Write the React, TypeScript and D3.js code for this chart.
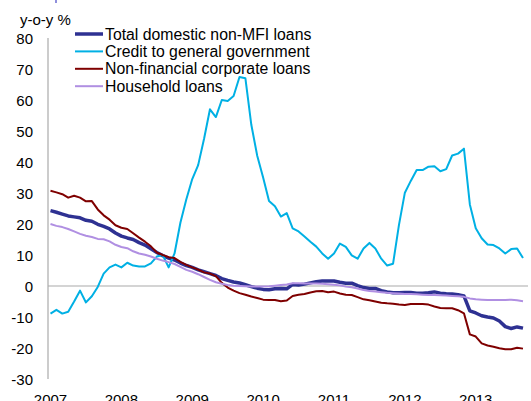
import React from "react";
import * as d3 from "d3";

// Monthly observations, Jan 2007 .. Sep 2013 (81 months)
const yearLabels = ["2007", "2008", "2009", "2010", "2011", "2012", "2013"];
const yTicks = [80, 70, 60, 50, 40, 30, 20, 10, 0, -10, -20, -30];

const totalLoans = [
  24.3, 23.8, 23.2, 22.6, 22.3, 22, 21.2, 20.9, 19.9, 19.2, 18.4, 17.1,
  16.1, 15.5, 15, 14, 13.2, 12, 10.8, 9.8, 9, 8.4, 7.4, 6.6,
  6, 5.2, 4.6, 4, 3.4, 2.4, 1.8, 1.3, 1, 0.4, -0.2, -0.7,
  -1.1, -1.2, -0.9, -0.8, -0.9, 0.5, 0.3, 0.6, 1, 1.4, 1.6, 1.6,
  1.6, 1.2, 0.9, 0.9, 0.1, -0.5, -0.8, -0.8, -1.5, -1.9, -2.2, -2.2,
  -2.1, -2.1, -2.3, -2.3, -2.2, -1.9, -2.3, -2.5, -2.6, -2.8, -3.2, -8,
  -8.7, -9.6, -10, -10.3, -11.3, -13.1, -13.7, -13.2, -13.6,
];

const govCredit = [
  -8.9, -7.7, -8.9, -8.3, -5, -1.5, -5.3, -3.3, -0.3, 4, 6, 6.9,
  6, 7.5, 6.6, 6.3, 6.3, 7.3, 9.5, 10, 6, 10.5, 20.5, 28,
  34.5, 39, 47.5, 57, 54.5, 60, 59.7, 61.3, 67.4, 67, 52, 42,
  35, 27.4, 25.7, 22.4, 23.5, 18.6, 17.6, 16, 14.3, 12.7, 10.5, 8.8,
  10.5, 13.7, 12.6, 9.9, 8.8, 12.1, 13.9, 12.1, 8.8, 6.6, 7.2, 19.7,
  30.1, 33.9, 37.4, 37.4, 38.5, 38.6, 37, 37.7, 42.1, 42.7, 44.3, 26.3,
  18.6, 15.4, 13.4, 13.2, 12.1, 10.5, 11.9, 12.1, 9,
];

const corporateLoans = [
  30.7, 30.2, 29.6, 28.5, 29.1, 28.5, 27.3, 27.4, 24.7, 22.8, 21.4, 19.6,
  18.8, 18.4, 17, 15.6, 14.3, 12.8, 10.8, 10, 9.3, 9, 7.8, 6.8,
  6, 5.3, 4.4, 4, 3.2, 1, -0.5, -1.5, -2.3, -2.8, -3.4, -3.9,
  -4.4, -4.5, -4.5, -4.9, -4.7, -3.2, -2.8, -2.6, -2.1, -1.7, -1.6, -2,
  -1.8, -2.4, -2.8, -2.9, -3.6, -4.3, -4.6, -5, -5.4, -5.6, -5.7, -6,
  -6.1, -5.8, -5.8, -5.8, -6, -6.6, -7.1, -7.2, -7.2, -7.8, -8.8, -15.6,
  -16.3, -18.5, -19.2, -19.6, -20.1, -20.4, -20.4, -19.9, -20.2,
];

const householdLoans = [
  20, 19.4, 19, 18.4, 17.6, 16.8, 16.2, 15.8, 15.2, 15.1, 14.4, 13.3,
  12.6, 12.2, 11.2, 10.5, 10.1, 9.5, 8.8, 8.2, 7.7, 7.1, 6.2, 5.2,
  4.6, 3.8, 2.9, 2, 1.2, 0.7, 0.3, 0.1, 0, -0.1, -0.2, -0.2,
  -0.2, -0.1, 0.1, 0.3, 0.5, 0.9, 0.9, 0.8, 0.8, 0.8, 0.7, 0.6,
  0.4, 0.2, -0.2, -0.4, -0.8, -1.3, -1.6, -1.8, -2, -2.2, -2.3, -2.4,
  -2.6, -2.6, -2.7, -2.8, -2.9, -2.9, -3, -3.1, -3.2, -3.3, -3.5, -4,
  -4.3, -4.4, -4.5, -4.5, -4.5, -4.5, -4.4, -4.6, -4.9,
];

const seriesNames = [
  "Total domestic non-MFI loans",
  "Credit to general government",
  "Non-financial corporate loans",
  "Household loans",
];
const seriesData = [totalLoans, govCredit, corporateLoans, householdLoans];
const seriesColors = ["#2e3192", "#00b0e4", "#7f0000", "#b08fe2"];
const seriesWidths = [3.5, 2, 2, 2];

const FONT = "Arial, 'Liberation Sans', sans-serif";

export default function App() {
  const W = 531;
  const H = 401;
  const x = d3.scaleLinear().domain([0, 80]).range([50.5, 523]);
  const y = d3.scaleLinear().domain([-30, 80]).range([379, 38]);
  const line = d3
    .line<number>()
    .x((_, i) => x(i))
    .y((d) => y(d));

  return (
    <svg
      width={W}
      height={H}
      style={{ position: "absolute", left: 0, top: 0, background: "#fff" }}
      fontFamily={FONT}
    >
      <line x1={56} x2={56} y1={0} y2={3} stroke="#6a6ad0" strokeWidth={1.5} />
      {/* axis title */}
      <text x={20} y={25} fontSize={15} fill="#000">
        y-o-y %
      </text>
      {/* y axis */}
      <line x1={48} x2={48} y1={y(80)} y2={y(-30)} stroke="#999" strokeWidth={1} />
      {/* zero line */}
      <line x1={48} x2={528} y1={y(0)} y2={y(0)} stroke="#aaa" strokeWidth={1.2} />
      {yTicks.map((t) => (
        <text
          key={t}
          x={33}
          y={y(t) + 1}
          dy="0.35em"
          textAnchor="end"
          fontSize={15}
          fill="#000"
        >
          {t}
        </text>
      ))}
      {yearLabels.map((lab, i) => (
        <text
          key={lab}
          x={x(i * 12)}
          y={405}
          textAnchor="middle"
          fontSize={15}
          fill="#000"
        >
          {lab}
        </text>
      ))}
      {seriesData.map((s, i) => (
        <path
          key={seriesNames[i]}
          d={line(s) || ""}
          fill="none"
          stroke={seriesColors[i]}
          strokeWidth={seriesWidths[i]}
          strokeLinejoin="round"
        />
      ))}
      {/* legend */}
      {seriesNames.map((n, i) => {
        const cy = 34 + i * 17.4;
        return (
          <g key={n}>
            <line
              x1={75}
              x2={103}
              y1={cy}
              y2={cy}
              stroke={seriesColors[i]}
              strokeWidth={seriesWidths[i]}
            />
            <text x={105} y={cy} dy="0.35em" fontSize={15.8} fill="#000">
              {n}
            </text>
          </g>
        );
      })}
    </svg>
  );
}
